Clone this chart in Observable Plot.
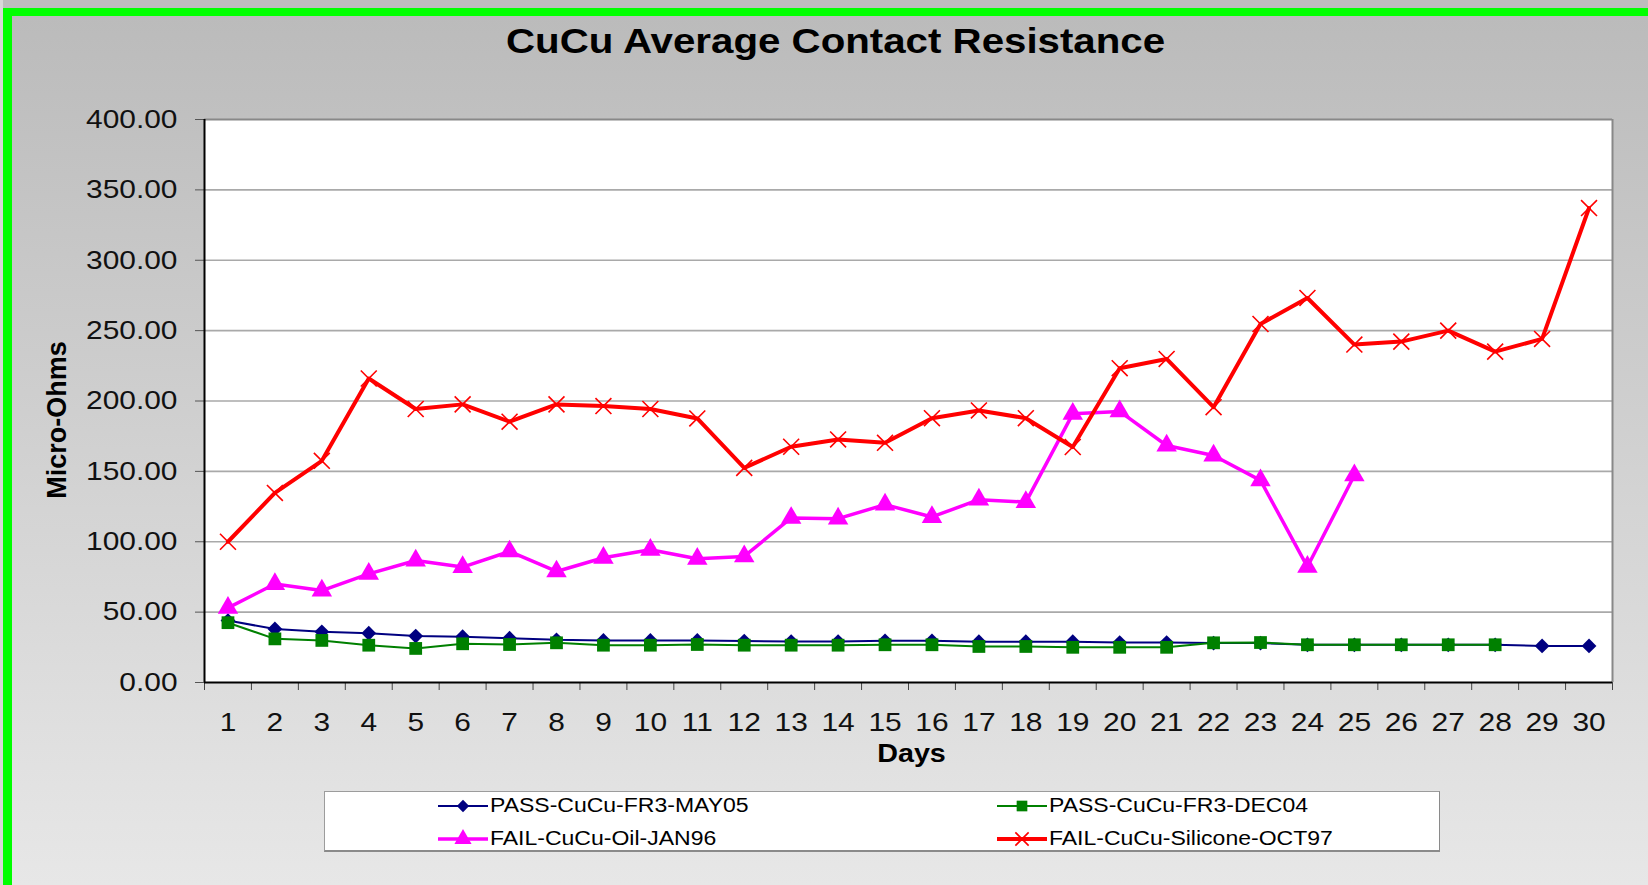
<!DOCTYPE html>
<html>
<head>
<meta charset="utf-8">
<script src="https://cdn.jsdelivr.net/npm/d3@7"></script>
<script src="https://cdn.jsdelivr.net/npm/@observablehq/plot@0.6"></script>
<style>
  html, body { margin: 0; padding: 0; }
  body { width: 1648px; height: 885px; overflow: hidden; font-family: "Liberation Sans", Arial, sans-serif; }
  #page { position: relative; width: 1648px; height: 885px; background: #bdbdbd; overflow: hidden; }
  #bg { position: absolute; left: 12px; top: 16px; width: 1636px; height: 869px; background: linear-gradient(#bbbbbb, #e7e7e7); }
  #gtop { position: absolute; left: 3px; top: 8px; width: 1645px; height: 8px; background: #00ff00; }
  #gleft { position: absolute; left: 3px; top: 8px; width: 9px; height: 877px; background: #00ff00; }
  #lstrip { position: absolute; left: 0; top: 0; width: 3px; height: 885px; background: #d8d8d8; }
  #title { position: absolute; left: 0; top: 23px; width: 1672px; text-align: center; font-weight: bold; font-size: 35px; line-height: 1; color: #000; white-space: nowrap; }
  #title span { display: inline-block; transform: scaleX(1.15); transform-origin: center; }
  #chart { position: absolute; left: 0; top: 0; }
  #legend { position: absolute; left: 324px; top: 791px; width: 1116px; height: 61px; background: #fff; border: 1px solid #9c9c9c; border-right-color: #8a8a8a; border-bottom: 2px solid #8a8a8a; box-sizing: border-box; }
  .lsym { position: absolute; }
  .ltxt { position: absolute; font-size: 20px; line-height: 1; color: #000; white-space: nowrap; transform: scaleX(1.15); transform-origin: left center; }
</style>
</head>
<body>
<div id="page">
  <div id="lstrip"></div>
  <div id="bg"></div>
  <div id="gtop"></div>
  <div id="gleft"></div>
  <div id="chart"></div>
  <div id="title"><span>CuCu Average Contact Resistance</span></div>
  <div id="legend"></div>
</div>
<script>
// ---- data ----
const days = d3.range(1, 31);
const seriesNames = ["PASS-CuCu-FR3-MAY05", "PASS-CuCu-FR3-DEC04", "FAIL-CuCu-Oil-JAN96", "FAIL-CuCu-Silicone-OCT97"];
const seriesColors = ["#000080", "#008000", "#ff00ff", "#ff0000"];
const may05 = [44, 38, 36, 35, 33, 32.5, 31.5, 30.3, 29.9, 29.9, 29.9, 29.4, 29.1, 29.1, 29.6, 29.6, 29, 29, 29, 28.4, 28.4, 28, 28, 26.8, 26.8, 26.8, 26.8, 26.8, 26, 26];
const dec04 = [42.5, 31, 29.9, 26.5, 24.2, 27.5, 27, 28.2, 26.5, 26.5, 27, 26.5, 26.5, 26.5, 26.8, 26.8, 25.6, 25.6, 25, 25, 25, 28.2, 28.4, 26.8, 26.8, 26.8, 26.8, 26.8];
const oilJan96 = [53, 70, 65.3, 77.2, 86.7, 82, 93.1, 78.9, 88.6, 94.3, 87.9, 89.6, 116.9, 116.4, 126.4, 117.6, 129.9, 128.2, 190.9, 192.6, 168.4, 161.3, 143.6, 82.2, 147.2];
const siliconeOct97 = [100, 134.7, 157.5, 216, 194.3, 197.6, 185.3, 197.6, 196.4, 194.3, 187.6, 152.5, 167.5, 172.7, 170.3, 187.8, 193.3, 187.8, 167.3, 223.3, 229.9, 195.6, 254.7, 273.2, 240.1, 242.2, 250, 235.1, 244.1, 337.1];
const yTicks = [0, 50, 100, 150, 200, 250, 300, 350, 400];
const yLabel = "Micro-Ohms";
const xLabel = "Days";

// ---- build ----
const seriesValues = [may05, dec04, oilJan96, siliconeOct97];
const rows = seriesValues.map((vals, s) => vals.map((v, i) => ({series: seriesNames[s], day: days[i], value: v})));
const boundaries = d3.range(0, days.length + 1).map(i => i + 0.5);

// Excel-like diamond (square rotated 45°)
const rhombus = {draw(ctx, size) { const r = Math.sqrt(size / 2); ctx.moveTo(0, -r); ctx.lineTo(r, 0); ctx.lineTo(0, r); ctx.lineTo(-r, 0); ctx.closePath(); }};
const styles = [
  {line: 2, symbol: rhombus, r: 5.9, fill: true},
  {line: 2, symbol: "square", r: 7.2, fill: true},
  {line: 3.5, symbol: "triangle", r: 7.6, fill: true},
  {line: 4, symbol: "times", r: 7.3, fill: false}
];

const seriesMarks = rows.flatMap((data, s) => {
  const st = styles[s];
  const c = seriesColors[s];
  return [
    Plot.line(data, {x: "day", y: "value", stroke: c, strokeWidth: st.line, strokeLinejoin: "round"}),
    st.fill
      ? Plot.dot(data, {x: "day", y: "value", symbol: () => st.symbol, r: st.r, fill: c, stroke: "none"})
      : Plot.dot(data, {x: "day", y: "value", symbol: () => st.symbol, r: st.r, stroke: c, strokeWidth: 1.6, fill: "none"})
  ];
});

const chart = Plot.plot({
  width: 1648,
  height: 790,
  marginLeft: 204,
  marginRight: 36,
  marginTop: 119,
  marginBottom: 108,
  x: {domain: [0.5, 30.5]},
  y: {domain: [0, 400]},
  symbol: {type: "identity"},
  style: {background: "transparent", fontFamily: "'Liberation Sans', Arial, sans-serif", color: "#111", overflow: "visible"},
  marks: [
    Plot.frame({fill: "white", stroke: "none"}),
    Plot.ruleY(yTicks.filter(d => d > 0 && d < 400), {stroke: "#a9a9a9", strokeWidth: 1.6}),
    Plot.ruleY([400], {stroke: "#888", strokeWidth: 2}),
    Plot.ruleX([30.5], {stroke: "#888", strokeWidth: 2}),
    Plot.axisY({ticks: yTicks, tickSize: 9, tickPadding: 18, tickFormat: d => d.toFixed(2), fontSize: 26, label: null, stroke: "#555"}),
    Plot.axisX({ticks: boundaries, tickSize: 8, tickFormat: () => "", label: null, stroke: "#444"}),
    Plot.axisX({ticks: days, tickSize: 0, tickPadding: 30, tickFormat: d => String(d), fontSize: 26, label: null}),
    Plot.ruleX([0.5], {stroke: "#000", strokeWidth: 2}),
    Plot.ruleY([0], {stroke: "#000", strokeWidth: 2}),
    ...seriesMarks,
    Plot.text([yLabel], {text: d => d, frameAnchor: "left", textAnchor: "middle", rotate: -90, dx: -147, dy: 19, fontSize: 27, fontWeight: "bold", fill: "#000"}),
    Plot.text([xLabel], {text: d => d, frameAnchor: "bottom", textAnchor: "middle", dx: 3, dy: 79, fontSize: 25, fontWeight: "bold", fill: "#000"})
  ]
});
document.getElementById("chart").appendChild(chart);

// widen the glyphs horizontally like the reference (its text is ~15% wider than Arial)
chart.querySelectorAll("text").forEach(t => {
  if (t.textContent === yLabel || !t.textContent) return;
  const len = t.getComputedTextLength();
  if (len > 0) {
    t.setAttribute("textLength", (len * 1.15).toFixed(1));
    t.setAttribute("lengthAdjust", "spacingAndGlyphs");
  }
});

// ---- legend ----
const legend = document.getElementById("legend");
const legendLayout = [
  {col: 0, row: 0}, {col: 1, row: 0}, {col: 0, row: 1}, {col: 1, row: 1}
];
const colSymX = [437 - 324, 996 - 324];
const rowY = [806 - 791, 839 - 791];
seriesNames.forEach((name, s) => {
  const {col, row} = legendLayout[s];
  const st = styles[s];
  const c = seriesColors[s];
  const svg = d3.create("svg").attr("class", "lsym").attr("width", 52).attr("height", 20)
    .style("left", (colSymX[col] - 1) + "px").style("top", (rowY[row] - 10 - 1) + "px");
  svg.append("line").attr("x1", 1).attr("x2", 51).attr("y1", 10).attr("y2", 10)
    .attr("stroke", c).attr("stroke-width", st.line);
  let sym;
  if (st.symbol === "square") sym = d3.symbolSquare;
  else if (st.symbol === "triangle") sym = d3.symbolTriangle;
  else if (st.symbol === "times") sym = d3.symbolTimes;
  else sym = st.symbol;
  const p = svg.append("path").attr("transform", "translate(26,10)")
    .attr("d", d3.symbol(sym, Math.PI * st.r * st.r * 0.7)());
  if (st.fill) p.attr("fill", c); else p.attr("fill", "none").attr("stroke", c).attr("stroke-width", 1.6);
  legend.appendChild(svg.node());
  const span = document.createElement("div");
  span.className = "ltxt";
  span.textContent = name;
  span.style.left = (colSymX[col] + 53 - 1) + "px";
  span.style.top = (rowY[row] - 11 - 1) + "px";
  legend.appendChild(span);
});
</script>
</body>
</html>
